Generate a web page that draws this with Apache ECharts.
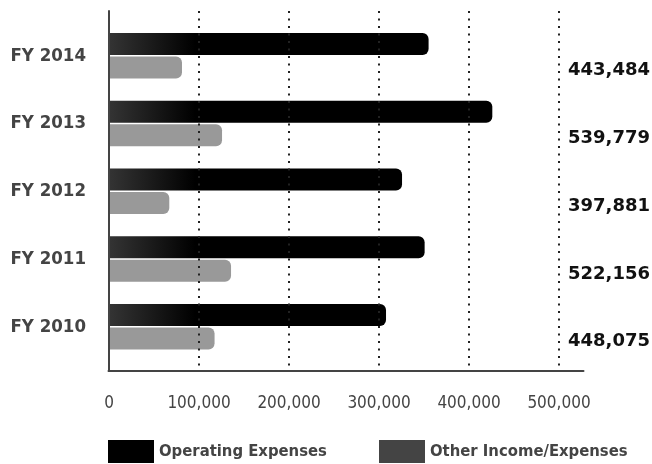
<!DOCTYPE html>
<html>
<head>
<meta charset="utf-8">
<script src="https://cdn.jsdelivr.net/npm/echarts@6/dist/echarts.min.js"></script>
<style>
  html, body { margin: 0; padding: 0; background: #fff; }
  #chart { width: 652px; height: 464px; }
</style>
</head>
<body>
<div id="chart"></div>
<script>
// Fiscal years, bottom to top
const years = ['FY 2010', 'FY 2011', 'FY 2012', 'FY 2013', 'FY 2014'];
// Operating expenses per year
const operatingExpenses = [307800, 350700, 325600, 425900, 355100];
// Other income / expenses per year
const otherIncomeExpenses = [117300, 135600, 67000, 125600, 81100];
// Yearly totals printed at the right
const totals = ['448,075', '522,156', '397,881', '539,779', '443,484'];
// Value axis ticks
const tickMax = 500000;
const tickStep = 100000;

const narrow = "'DejaVu Sans Condensed', 'DejaVu Sans', sans-serif";
const gray = '#444';

const chart = echarts.init(document.getElementById('chart'), null, { renderer: 'canvas' });

// plot geometry
const plotLeft = 109, plotWidth = 450;       // 0 .. 500,000
const frameTop = 11, frameHeight = 360;      // axis lines / grid lines
const barTop = 21.9, barHeight = 338.7;      // category bands
const totalShift = 15;                       // totals sit a little below each pair

const opGradient = new echarts.graphic.LinearGradient(plotLeft, 0, plotLeft + 86, 0, [
  { offset: 0, color: '#343434' },
  { offset: 1, color: '#000000' }
], true);

const gridBase = { outerBoundsMode: 'none', containLabel: false };
const legendText = { color: gray, fontFamily: narrow, fontSize: 16.5, fontWeight: 'bold' };

chart.setOption({
  animation: false,
  backgroundColor: '#fff',
  grid: [
    // 0: dotted value grid lines and tick labels
    Object.assign({ left: plotLeft, top: frameTop, width: plotWidth, height: frameHeight }, gridBase),
    // 1: bars and year labels
    Object.assign({ left: plotLeft, top: barTop, width: plotWidth, height: barHeight }, gridBase),
    // 2: axis frame (x axis runs a bit past the last tick)
    Object.assign({ left: plotLeft - 0.5, top: frameTop, width: 475, height: frameHeight }, gridBase),
    // 3: totals column on the right
    Object.assign({ left: plotLeft, top: barTop + totalShift, width: plotWidth, height: barHeight }, gridBase)
  ],
  xAxis: [
    {
      gridIndex: 0, type: 'value', min: 0, max: tickMax, interval: tickStep, z: 5,
      axisLine: { show: false }, axisTick: { show: false },
      splitLine: { show: true, lineStyle: { color: '#222', width: 2, type: [2, 5.5] } },
      axisLabel: {
        margin: 24, color: gray, fontFamily: narrow, fontSize: 17,
        formatter: v => v === 0 ? '0' : v.toLocaleString('en-US')
      }
    },
    { gridIndex: 1, type: 'value', min: 0, max: tickMax, show: false },
    {
      gridIndex: 2, type: 'value', min: 0, max: 1, z: 6,
      axisLine: { show: true, lineStyle: { color: gray, width: 2 } },
      axisTick: { show: false }, axisLabel: { show: false }, splitLine: { show: false }
    },
    { gridIndex: 3, type: 'value', min: 0, max: tickMax, show: false }
  ],
  yAxis: [
    { gridIndex: 0, type: 'category', data: years, show: false },
    {
      gridIndex: 1, type: 'category', data: years,
      axisLine: { show: false }, axisTick: { show: false },
      axisLabel: { margin: 23, color: gray, fontFamily: narrow, fontSize: 18.5, fontWeight: 'bold' }
    },
    {
      gridIndex: 2, type: 'value', min: 0, max: 1, z: 6,
      axisLine: { show: true, lineStyle: { color: gray, width: 2 } },
      axisTick: { show: false }, axisLabel: { show: false }, splitLine: { show: false }
    },
    {
      gridIndex: 3, type: 'category', data: totals, position: 'right',
      axisLine: { show: false }, axisTick: { show: false },
      axisLabel: {
        margin: 9, color: '#111', fontFamily: "'DejaVu Sans', sans-serif",
        fontSize: 18, fontWeight: 'bold', align: 'left'
      }
    }
  ],
  legend: [
    {
      left: 108, top: 440, padding: 0, itemWidth: 46, itemHeight: 23, itemGap: 0,
      icon: 'rect',
      data: [{ name: 'Operating Expenses', itemStyle: { color: '#000' } }],
      textStyle: legendText
    },
    {
      left: 379, top: 440, padding: 0, itemWidth: 46, itemHeight: 23, itemGap: 0,
      icon: 'rect',
      data: [{ name: 'Other Income/Expenses', itemStyle: { color: '#444' } }],
      textStyle: legendText
    }
  ],
  series: [
    {
      name: 'Operating Expenses', type: 'bar', xAxisIndex: 1, yAxisIndex: 1,
      data: operatingExpenses, barWidth: 22, barGap: '6%',
      itemStyle: { color: opGradient, borderRadius: [0, 6, 6, 0] }
    },
    {
      name: 'Other Income/Expenses', type: 'bar', xAxisIndex: 1, yAxisIndex: 1,
      data: otherIncomeExpenses, barWidth: 22,
      itemStyle: { color: '#999999', borderRadius: [0, 6, 6, 0] }
    }
  ]
});
</script>
</body>
</html>
